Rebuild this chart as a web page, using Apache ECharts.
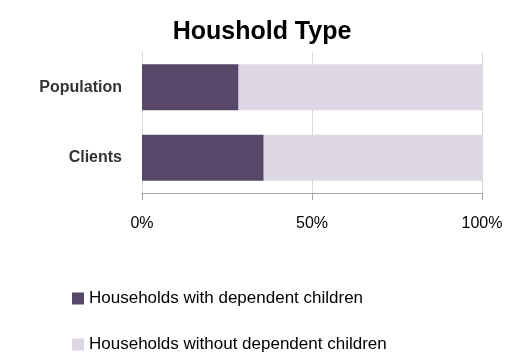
<!DOCTYPE html>
<html>
<head>
<meta charset="utf-8">
<script src="https://cdn.jsdelivr.net/npm/echarts@6/dist/echarts.min.js"></script>
<style>html,body{margin:0;padding:0;background:#fff}#c{width:508px;height:356px}</style>
</head>
<body>
<div id="c"></div>
<script>
const categories = ['Population', 'Clients'];
const withChildren = [28.4, 35.8];
const withoutChildren = [71.6, 64.2];
const seriesNames = ['Households with dependent children', 'Households without dependent children'];
const xTicks = [0, 50, 100];

const font = 'Liberation Sans, Arial, sans-serif';
const legendText = {fontFamily: font, fontSize: 17, color: '#000'};
const chart = echarts.init(document.getElementById('c'), null, {renderer: 'canvas'});
chart.setOption({
  animation: false,
  title: {
    text: 'Houshold Type', left: 257, top: 15, textAlign: 'center',
    textStyle: {fontFamily: font, fontSize: 25, fontWeight: 'bold', color: '#000'}
  },
  grid: {left: 142, right: 26, top: 52, bottom: 163, containLabel: false},
  xAxis: {
    type: 'value', min: 0, max: 100, interval: 50,
    axisLine: {show: true, lineStyle: {color: '#a6a6a6', width: 1}},
    axisTick: {show: true, length: 7, lineStyle: {color: '#a6a6a6'}},
    splitLine: {show: true, lineStyle: {color: '#d9d9d9', width: 1}},
    axisLabel: {formatter: v => v + '%', margin: 23, fontFamily: font, fontSize: 16, color: '#000'}
  },
  yAxis: {
    type: 'category', data: categories, inverse: true,
    axisLine: {show: true, lineStyle: {color: '#d9d9d9'}},
    axisTick: {show: false},
    axisLabel: {margin: 20, fontFamily: font, fontSize: 16, fontWeight: 'bold', color: '#333'}
  },
  legend: [
    {orient: 'vertical', left: 67, top: 285, itemWidth: 12, itemHeight: 12, itemGap: 5, icon: 'rect',
     textStyle: legendText, data: [seriesNames[0]]},
    {orient: 'vertical', left: 67, top: 331, itemWidth: 12, itemHeight: 12, itemGap: 5, icon: 'rect',
     textStyle: legendText, data: [seriesNames[1]]}
  ],
  series: [
    {name: seriesNames[0], type: 'bar', stack: 'a', data: withChildren, barWidth: 46, itemStyle: {color: '#57486a'}},
    {name: seriesNames[1], type: 'bar', stack: 'a', data: withoutChildren, barWidth: 46, itemStyle: {color: '#ddd8e4'}}
  ]
});
</script>
</body>
</html>
